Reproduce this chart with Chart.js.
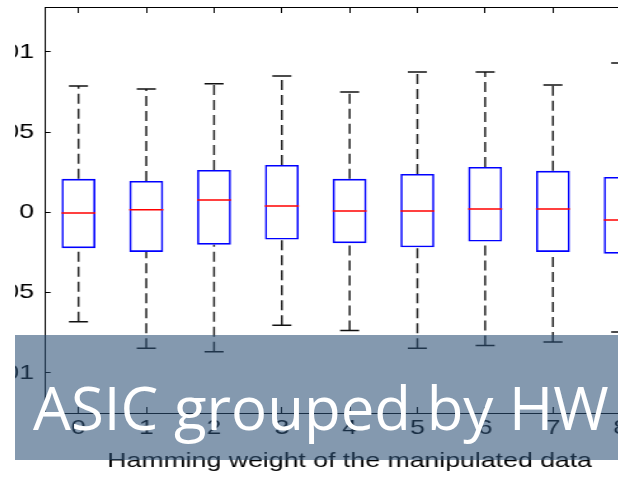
<!DOCTYPE html>
<html>
<head>
<meta charset="utf-8">
<script src="https://cdn.jsdelivr.net/npm/chart.js@4/dist/chart.umd.min.js"></script>
<style>
  html, body { margin: 0; padding: 0; background: #fff; }
  body { width: 618px; height: 477px; overflow: hidden; position: relative; }
  /* the figure is a cropped, horizontally stretched screenshot */
  #clip { position: absolute; left: 15px; top: 0; width: 603px; height: 477px; overflow: hidden; }
  #stretch { position: absolute; left: -72.1px; top: 0; width: 580px; height: 477px;
             transform: scaleX(1.27); transform-origin: 0 0; }
  #banner { position: absolute; left: 15px; top: 335px; width: 603px; height: 125px;
            background: rgba(43, 80, 118, 0.58); }
  #banner span { position: absolute; left: 18px; top: 42px; font: 60px 'Open Sans', sans-serif;
                 line-height: 60px; color: #fff; white-space: nowrap; }
</style>
</head>
<body>
<div id="clip">
  <div id="stretch"><canvas id="boxChart" width="580" height="477"></canvas></div>
</div>
<div id="banner"><span>ASIC grouped by HW</span></div>

<script>
// Hamming weight groups (x axis)
const hwLabels = ['0', '1', '2', '3', '4', '5', '6', '7', '8'];

// box plot statistics per group
const upperWhisker = [0.00788, 0.00769, 0.00801, 0.00850, 0.00751, 0.00875, 0.00875, 0.00794, 0.00931];
const upperQuartile = [0.00209, 0.00196, 0.00265, 0.00296, 0.00209, 0.00240, 0.00283, 0.00259, 0.00221];
const medians = [-0.00003, 0.00016, 0.00078, 0.00040, 0.00009, 0.00009, 0.00022, 0.00022, -0.00047];
const lowerQuartile = [-0.00223, -0.00246, -0.00201, -0.00169, -0.00192, -0.00217, -0.00182, -0.00246, -0.00257];
const lowerWhisker = [-0.00682, -0.00846, -0.00869, -0.00703, -0.00736, -0.00846, -0.00830, -0.00807, -0.00745];

// y axis ticks and how MATLAB printed them
const yTicks = [-0.01, -0.005, 0, 0.005, 0.01];
const yTickLabels = ['-0.01', '-0.005', '0', '0.005', '0.01'];

const xTitle = 'Hamming weight of the manipulated data';

// datasets built from the arrays above
const boxData = hwLabels.map((_, i) => ({ x: i, y: [lowerQuartile[i], upperQuartile[i]] }));
const whiskerData = [];
hwLabels.forEach((_, i) => {
    whiskerData.push({ x: i, y: upperQuartile[i] }, { x: i, y: upperWhisker[i] }, { x: i, y: null });
    whiskerData.push({ x: i, y: lowerWhisker[i] }, { x: i, y: lowerQuartile[i] }, { x: i, y: null });
});
const capData = [];
hwLabels.forEach((_, i) => {
    capData.push({ x: i, y: upperWhisker[i] }, { x: i, y: lowerWhisker[i] });
});
const medianData = hwLabels.map((_, i) => ({ x: i, y: medians[i] }));

const axisFont = { family: "'Liberation Sans', Arial, sans-serif", size: 21 };
const setXTicks = (scale) => { scale.ticks = hwLabels.map((_, i) => ({ value: i })); };

const ctx = document.getElementById('boxChart').getContext('2d');

new Chart(ctx, {
    type: 'scatter',
    data: {
        datasets: [
            {
                type: 'scatter', // medians
                data: medianData,
                pointStyle: 'line',
                pointRadius: 13.4,
                pointBorderColor: '#ff0000',
                pointBorderWidth: 1.5,
            },
            {
                type: 'scatter', // whisker caps
                data: capData,
                pointStyle: 'line',
                pointRadius: 7.5,
                pointBorderColor: '#111',
                pointBorderWidth: 1.5,
            },
            {
                type: 'line', // whiskers
                data: whiskerData,
                borderColor: '#222',
                borderWidth: 1.5,
                borderDash: [10, 5],
                pointRadius: 0,
                spanGaps: false,
                tension: 0,
            },
            {
                type: 'bar', // boxes
                data: boxData,
                backgroundColor: 'rgba(0,0,0,0)',
                borderColor: '#0000ff',
                borderWidth: 1.6,
                borderSkipped: false,
                categoryPercentage: 0.5,
                barPercentage: 1.0,
            },
        ],
    },
    options: {
        responsive: false,
        animation: false,
        events: [],
        layout: { autoPadding: false, padding: { top: 7, right: 19.7, left: 0, bottom: 0 } },
        plugins: { legend: { display: false }, tooltip: { enabled: false } },
        scales: {
            x: {
                type: 'linear',
                position: 'bottom',
                min: -0.5,
                max: 8.5,
                offset: false,
                afterBuildTicks: setXTicks,
                afterFit: (s) => { s.height = 64; s.paddingLeft = 0; s.paddingRight = 0; },
                border: { display: true, color: '#000', width: 1 },
                grid: { drawOnChartArea: false, color: '#000', tickLength: -6, offset: false },
                ticks: {
                    color: '#000',
                    font: axisFont,
                    padding: 9,
                    maxRotation: 0,
                    callback: (v) => hwLabels[v],
                },
                title: {
                    display: true,
                    text: xTitle,
                    color: '#000',
                    font: axisFont,
                    padding: { top: 0, bottom: 3 },
                },
            },
            xTop: {
                type: 'linear',
                position: 'top',
                min: -0.5,
                max: 8.5,
                offset: false,
                afterBuildTicks: setXTicks,
                afterFit: (s) => { s.height = 0; s.paddingLeft = 0; s.paddingRight = 0; },
                border: { display: true, color: '#000', width: 1 },
                grid: { drawOnChartArea: false, color: '#000', tickLength: -6, offset: false },
                ticks: { display: false },
            },
            y: {
                type: 'linear',
                min: -0.0125,
                max: 0.0128,
                afterBuildTicks: (scale) => { scale.ticks = yTicks.map((v) => ({ value: v })); },
                afterFit: (s) => { s.width = 80; s.paddingTop = 0; s.paddingBottom = 0; },
                border: { display: true, color: '#000', width: 1 },
                grid: { drawOnChartArea: false, color: '#000', tickLength: -4.7 },
                ticks: {
                    color: '#000',
                    font: axisFont,
                    padding: 13,
                    callback: (v) => yTickLabels[yTicks.indexOf(v)],
                },
            },
        },
    },
});
</script>
</body>
</html>
